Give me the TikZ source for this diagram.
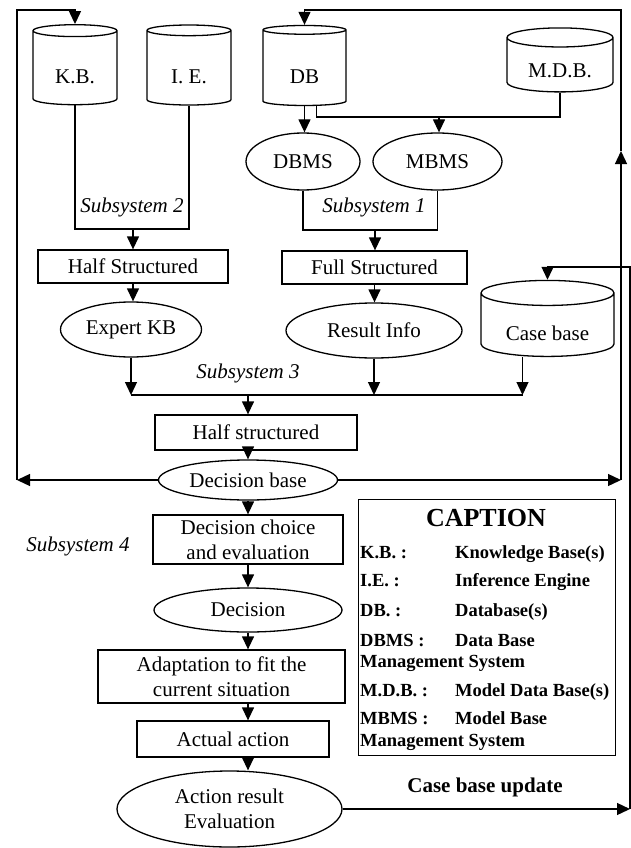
\documentclass[tikz,border=0pt]{standalone}
\usepackage{fontspec}
\setmainfont{Liberation Serif}
\usetikzlibrary{shapes.geometric, arrows.meta, calc}
\newcommand\mainsize{\fontsize{21}{25}\selectfont}
\newcommand\keysize{\fontsize{18.5}{21}\selectfont}
\tikzset{
  box/.style    = {shape=rectangle, draw, line width=1.3pt, inner sep=0pt,
                   align=center, font=\mainsize},
  oval/.style   = {shape=ellipse, draw, line width=1.3pt, inner sep=0pt,
                   align=center, font=\mainsize},
  drum/.style   = {shape=cylinder, shape border rotate=90, aspect=0.3,
                   draw, line width=1.3pt, inner sep=0pt, font=\mainsize,
                   text height=32pt, text depth=0pt},
  subsys/.style = {font=\mainsize\itshape, inner sep=0pt},
  keytext/.style = {font=\keysize\bfseries, anchor=base west, inner sep=0pt},
  link/.style   = {line width=1.3pt},
  flow/.style   = {link, -{Triangle[length=13pt,width=12pt]}}
}

\begin{document}
\begin{tikzpicture}[x=1pt, y=-1pt]
 \useasboundingbox (0,0) rectangle (631,848);

 % stores
 \node [drum, minimum width=84pt, minimum height=80pt] (kb) at (75,68) {K.B.};
 \node [drum, minimum width=84pt, minimum height=80pt] (ie) at (189,68) {I. E.};
 \node [drum, minimum width=83pt, minimum height=80pt] (db) at (304.5,68) {DB};
 \node [drum, minimum width=106pt, minimum height=64pt, text height=26pt] (mdb) at (560,65) {M.D.B.};
 \node [drum, minimum width=133pt, minimum height=76pt, text height=30pt] (cbase) at (547.5,325) {Case base};

 \node [oval, minimum width=114pt, minimum height=57pt] (dbms) at (303,161.5) {DBMS};
 \node [oval, minimum width=129pt, minimum height=57pt] (mbms) at (437.5,161.5) {MBMS};
 \node [box, minimum width=190pt, minimum height=33pt] (halfs) at (133,266.5) {Half Structured};
 \node [box, minimum width=185pt, minimum height=33pt] (fulls) at (374.5,267.5) {Full Structured};
 \node [oval, minimum width=141pt, minimum height=55pt] (expkb) at (131,329.5) {Expert KB};
 \node [oval, minimum width=176pt, minimum height=55pt] (resinfo) at (374,330.5) {Result Info};
 \node [box, minimum width=202pt, minimum height=35pt] (halfs3) at (256,432.5) {Half structured};

 % subsystem 4
 \node [oval, minimum width=179pt, minimum height=40pt] (decbase) at (248,480) {Decision base};
 \node [box, minimum width=190pt, minimum height=49pt] (choice) at (248,539.5) {Decision choice\\and evaluation};
 \node [oval, minimum width=188pt, minimum height=44pt] (decision) at (248,610) {Decision};
 \node [box, minimum width=247pt, minimum height=53pt] (adapt) at (221.5,676.5) {Adaptation to fit the\\current situation};
 \node [box, minimum width=192pt, minimum height=36pt] (action) at (233,739) {Actual action};
 \node [oval, minimum width=225pt, minimum height=76pt] (evalres) at (229.5,809) {Action result\\Evaluation};

 \node [subsys] (sub2) at (132,207) {Subsystem 2};
 \node [subsys] (sub1) at (374,207) {Subsystem 1};
 \node [subsys] (sub3) at (248,373) {Subsystem 3};
 \node [subsys] (sub4) at (78,546) {Subsystem 4};

 % junctions and corners
 \coordinate (j2) at (133,229);
 \coordinate (j1) at (375,230);
 \coordinate (jm) at (439,117);
 \coordinate (j3) at (248,395);
 \coordinate (ltop) at (17,10);
 \coordinate (rtop) at (621,10);
 \coordinate (ctop) at (630,267);

 \draw [link] (kb.south) |- (j2) -| (ie.south);
 \draw [flow] (j2) -- (halfs.north);
 \draw [flow] (db.south) -- (db.south |- dbms.north);
 \draw [link] ([xshift=12pt]db.south) |- (jm) -| (mdb.south);
 \draw [flow] (jm) -- (jm |- mbms.north);
 \draw [link] (dbms.south) |- (j1) -| (mbms.south);
 \draw [flow] (j1) -- (j1 |- fulls.north);
 \draw [flow] (halfs.south) -- (halfs.south |- expkb.north);
 \draw [flow] (fulls.south) -- (fulls.south |- resinfo.north);

 \draw [flow] (expkb.south) -- (expkb.south |- j3);
 \draw [flow] (resinfo.south) -- (resinfo.south |- j3);
 \draw [flow] ([xshift=-25pt]cbase.south) -- ([xshift=-25pt]cbase.south |- j3);
 \draw [link] (expkb.south |- j3) -- ([xshift=-25pt]cbase.south |- j3);
 \draw [flow] (j3) -- (j3 |- halfs3.north);
 \draw [flow] (j3 |- halfs3.south) -- (decbase.north);

 \draw [flow] (decbase.south) -- (choice.north);
 \draw [flow] (choice.south) -- (decision.north);
 \draw [flow] (decision.south) -- (decision.south |- adapt.north);
 \draw [flow] (decision.south |- adapt.south) -- (decision.south |- action.north);
 \draw [flow] (decision.south |- action.south) -- (decision.south |- evalres.north);

 % feedback loops
 \draw [flow] (decbase.west) -- (decbase.west -| ltop);
 \draw [flow] (decbase.west -| ltop) -- (ltop) -| (kb.north);
 \draw [flow] (decbase.east) -- (decbase.east -| rtop);
 \draw [flow] (decbase.east -| rtop) -- ($(decbase.east -| rtop)!0.7!(rtop)$);
 \draw [flow] ($(decbase.east -| rtop)!0.7!(rtop)$) -- (rtop) -| (db.north);
 \draw [flow] (evalres.east) -- (evalres.east -| ctop);
 \draw [flow] (evalres.east -| ctop) -- (ctop) -| (cbase.north);

 % caption
 \node [draw, line width=1pt, minimum width=257pt, minimum height=256pt] (caption) at (486.5,627) {};
 \node [font=\fontsize{26}{30}\selectfont\bfseries, anchor=base, inner sep=0pt] (captitle) at (486,526) {CAPTION};
 \node [keytext] (k1) at (360,558) {K.B. :};
 \node [keytext] (v1) at (455,558) {Knowledge Base(s)};
 \node [keytext] (k2) at (360,586) {I.E. :};
 \node [keytext] (v2) at (455,586) {Inference Engine};
 \node [keytext] (k3) at (360,616) {DB. :};
 \node [keytext] (v3) at (455,616) {Database(s)};
 \node [keytext] (k4) at (360,646) {DBMS :};
 \node [keytext] (v4) at (455,646) {Data Base};
 \node [keytext] (w4) at (360,667) {Management System};
 \node [keytext] (k5) at (360,696) {M.D.B. :};
 \node [keytext] (v5) at (455,696) {Model Data Base(s)};
 \node [keytext] (k6) at (360,724) {MBMS :};
 \node [keytext] (v6) at (455,724) {Model Base};
 \node [keytext] (w6) at (360,746) {Management System};
 \node [font=\mainsize\bfseries, anchor=base, inner sep=0pt] (update) at (485,792) {Case base update};
\end{tikzpicture}
\end{document}
